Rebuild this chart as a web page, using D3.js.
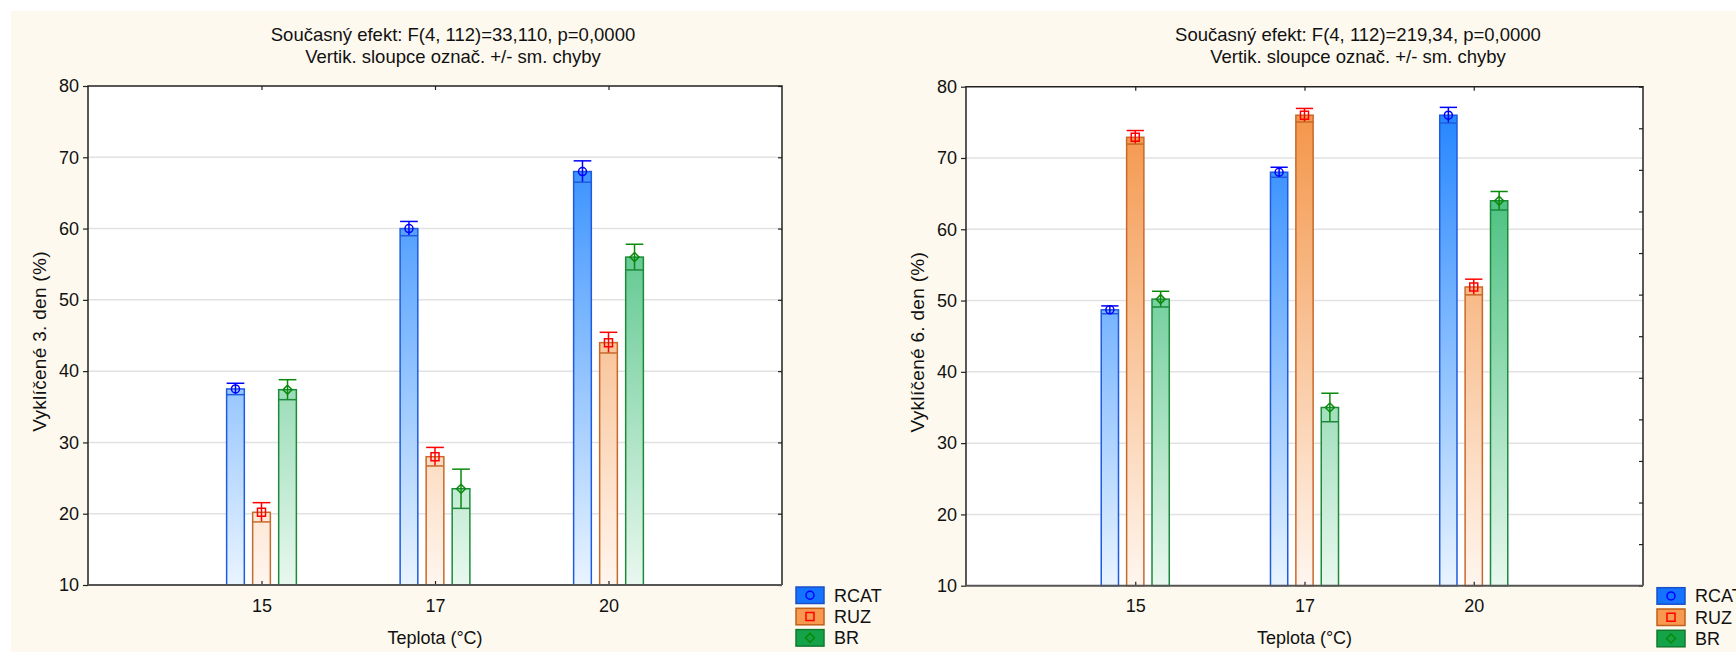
<!DOCTYPE html>
<html>
<head>
<meta charset="utf-8">
<script src="https://cdn.jsdelivr.net/npm/d3@7"></script>
<style>
  body { margin: 0; background: #fff; }
  svg { display: block; font-family: "Liberation Sans", Arial, sans-serif; }
  .tick text { font-size: 18px; fill: #111; }
  .lab { font-size: 18px; fill: #111; }
  .ttl { font-size: 18.5px; fill: #111; }
  .grid line { stroke: #e2e2e2; stroke-width: 1.5; }
</style>
</head>
<body>
<div id="chart"></div>
<script>
// categories and series
const temps = ["15", "17", "20"]
const series = ["RCAT", "RUZ", "BR"]
const yTicks = [10, 20, 30, 40, 50, 60, 70, 80]
const rightTicks6 = [0, 1, 2, 3, 4, 5, 6, 7, 8, 9, 10, 11, 12]

// day 3 means and standard errors
const rcat3 = [37.5, 60.0, 68.0], rcat3Se = [0.8, 1.0, 1.5]
const ruz3 = [20.2, 28.0, 44.0], ruz3Se = [1.35, 1.3, 1.45]
const br3 = [37.4, 23.5, 56.0], br3Se = [1.4, 2.75, 1.8]

// day 6 means and standard errors
const rcat6 = [48.7, 68.0, 76.0], rcat6Se = [0.55, 0.7, 1.1]
const ruz6 = [72.9, 76.0, 51.9], ruz6Se = [0.95, 0.95, 1.1]
const br6 = [50.2, 35.0, 64.0], br6Se = [1.1, 2.0, 1.3]

const W = 1736, H = 652

const sty = {
  RCAT: {top: "#1a80ff", bot: "#e9f4ff", stroke: "#1f5be0", mark: "#0000ff", box: "#1473ff", boxStroke: "#1a4fc8", shape: "circle"},
  RUZ:  {top: "#f39040", bot: "#fff6ef", stroke: "#c8692a", mark: "#ff0000", box: "#f7994f", boxStroke: "#c0601a", shape: "square"},
  BR:   {top: "#20b263", bot: "#e9f8ef", stroke: "#1d8a3a", mark: "#0a8a0a", box: "#15a34a", boxStroke: "#127a30", shape: "diamond"}
}

const svg = d3.select("#chart").append("svg")
  .attr("width", W)
  .attr("height", H)

svg.append("rect")
  .attr("x", 11).attr("y", 11)
  .attr("width", W - 11).attr("height", H - 11)
  .attr("fill", "#fef9ee")

const defs = svg.append("defs")

const drawPanel = (p) => {
  const x = d3.scalePoint()
    .domain(temps)
    .range([p.left, p.right])
    .padding(1)
  const y = d3.scaleLinear()
    .domain([10, 80])
    .range([p.bottom, p.top])
  const step = x.step(),
        bw = step * 0.102,
        off = step * 0.15
  const xs = d3.scaleBand()
    .domain(series)
    .range([-(off + bw / 2), off + bw / 2])
    .paddingInner(1 - bw / off)

  const g = svg.append("g")

  g.append("rect")
    .attr("x", p.left).attr("y", p.top)
    .attr("width", p.right - p.left).attr("height", p.bottom - p.top)
    .attr("fill", "#fff")

  // gridlines
  g.append("g")
    .attr("class", "grid")
    .selectAll("line")
    .data(yTicks.filter(d => d > 10 && d < 80))
    .join("line")
    .attr("x1", p.left).attr("x2", p.right)
    .attr("y1", d => y(d)).attr("y2", d => y(d))

  // gradients in plot space
  series.forEach(s => {
    const gr = defs.append("linearGradient")
      .attr("id", `gr-${p.id}-${s}`)
      .attr("gradientUnits", "userSpaceOnUse")
      .attr("x1", 0).attr("x2", 0)
      .attr("y1", y(80)).attr("y2", y(10))
    gr.append("stop").attr("offset", 0).attr("stop-color", sty[s].top)
    gr.append("stop").attr("offset", 1).attr("stop-color", sty[s].bot)
  })

  const rows = []
  series.forEach((s, i) => {
    temps.forEach((t, j) => {
      rows.push({s: s, t: t, m: p.means[i][j], se: p.ses[i][j]})
    })
  })

  const bars = g.append("g").selectAll("g")
    .data(rows)
    .join("g")
    .attr("transform", d => `translate(${x(d.t) + xs(d.s)},0)`)

  bars.append("rect")
    .attr("x", 0)
    .attr("width", bw)
    .attr("y", d => y(d.m))
    .attr("height", d => y(10) - y(d.m))
    .attr("fill", d => `url(#gr-${p.id}-${d.s})`)
    .attr("stroke", d => sty[d.s].stroke)
    .attr("stroke-width", 1.5)

  // error bars
  bars.append("line")
    .attr("x1", bw / 2).attr("x2", bw / 2)
    .attr("y1", d => y(d.m - d.se)).attr("y2", d => y(d.m + d.se))
    .attr("stroke", d => sty[d.s].mark)
    .attr("stroke-width", 1.5)
  bars.append("line")
    .attr("x1", 0).attr("x2", bw)
    .attr("y1", d => y(d.m + d.se)).attr("y2", d => y(d.m + d.se))
    .attr("stroke", d => sty[d.s].mark)
    .attr("stroke-width", 1.5)
  bars.append("line")
    .attr("x1", 0).attr("x2", bw)
    .attr("y1", d => y(d.m - d.se)).attr("y2", d => y(d.m - d.se))
    .attr("stroke", d => sty[d.s].stroke)
    .attr("stroke-width", 1.5)

  bars.append("path")
    .attr("transform", d => `translate(${bw / 2},${y(d.m)})`)
    .attr("d", d => marker(sty[d.s].shape))
    .attr("fill", "none")
    .attr("stroke", d => sty[d.s].mark)
    .attr("stroke-width", 1.5)

  // axes
  g.append("g")
    .attr("transform", `translate(${p.left},0)`)
    .call(d3.axisLeft(y).tickValues(yTicks).tickSizeOuter(0).tickSize(5).tickPadding(4))
    .call(a => a.select(".domain").remove())

  g.append("g")
    .attr("transform", `translate(0,${p.bottom})`)
    .call(d3.axisBottom(x).tickSizeInner(-4).tickSizeOuter(0).tickPadding(14))
    .call(a => a.select(".domain").remove())

  g.append("g")
    .attr("transform", `translate(0,${p.top})`)
    .call(d3.axisTop(x).tickSizeInner(-4).tickSizeOuter(0).tickFormat(""))
    .call(a => a.select(".domain").remove())

  const yr = d3.scaleLinear().domain(d3.extent(p.rightTicks)).range([p.bottom, p.top])
  g.append("g")
    .attr("transform", `translate(${p.right},0)`)
    .call(d3.axisRight(yr).tickValues(p.rightTicks).tickSizeInner(-4).tickSizeOuter(0).tickFormat(""))
    .call(a => a.select(".domain").remove())

  g.selectAll(".tick line").attr("stroke", "#222").attr("stroke-width", 1.2)

  // frame
  g.append("path")
    .attr("d", `M${p.left},${p.bottom}V${p.top}H${p.right}V${p.bottom}`)
    .attr("fill", "none")
    .attr("stroke", "#222")
    .attr("stroke-width", 1.5)
  g.append("line")
    .attr("x1", p.left).attr("x2", p.right)
    .attr("y1", p.bottom).attr("y2", p.bottom)
    .attr("stroke", "#555")
    .attr("stroke-width", 2)

  // titles
  g.append("text")
    .attr("class", "ttl")
    .attr("x", p.titleX).attr("y", 41)
    .style("text-anchor", "middle")
    .text(p.title1)
  g.append("text")
    .attr("class", "ttl")
    .attr("x", p.titleX).attr("y", 63)
    .style("text-anchor", "middle")
    .text("Vertik. sloupce označ. +/- sm. chyby")

  g.append("text")
    .attr("class", "lab")
    .attr("x", (p.left + p.right) / 2).attr("y", 644)
    .style("text-anchor", "middle")
    .text("Teplota (°C)")

  g.append("text")
    .attr("class", "lab")
    .style("font-size", "19px")
    .style("letter-spacing", "0.3px")
    .attr("transform", `translate(${p.left - 42},${(p.top + p.bottom) / 2 + 6}) rotate(-90)`)
    .style("text-anchor", "middle")
    .text(p.yTitle)

  // legend
  const lg = g.append("g")
    .selectAll("g")
    .data(series)
    .join("g")
    .attr("transform", (d, i) => `translate(${p.right + 14},${p.bottom + 2 + i * 21.3})`)
  lg.append("rect")
    .attr("width", 28).attr("height", 16.5)
    .attr("fill", d => sty[d].box)
    .attr("stroke", d => sty[d].boxStroke)
    .attr("stroke-width", 1.5)
  lg.append("path")
    .attr("transform", "translate(14,8.25)")
    .attr("d", d => marker(sty[d].shape))
    .attr("fill", "none")
    .attr("stroke", d => sty[d].mark)
    .attr("stroke-width", 1.5)
  lg.append("text")
    .attr("x", 38).attr("y", 14.5)
    .style("font-size", "18px")
    .attr("fill", "#111")
    .text(d => d)
}

function marker(shape) {
  if (shape == "circle") return "M4,0A4,4 0 1,1 -4,0A4,4 0 1,1 4,0Z"
  if (shape == "square") return "M-4,-4H4V4H-4Z"
  return "M0,-4.5L4.5,0L0,4.5L-4.5,0Z"
}

drawPanel({
  id: "d3", left: 88, right: 782, top: 86, bottom: 585, titleX: 453,
  title1: "Současný efekt: F(4, 112)=33,110, p=0,0000",
  yTitle: "Vyklíčené 3. den (%)",
  means: [rcat3, ruz3, br3], ses: [rcat3Se, ruz3Se, br3Se],
  rightTicks: yTicks
})

drawPanel({
  id: "d6", left: 966, right: 1643, top: 86.7, bottom: 585.7, titleX: 1358,
  title1: "Současný efekt: F(4, 112)=219,34, p=0,0000",
  yTitle: "Vyklíčené 6. den (%)",
  means: [rcat6, ruz6, br6], ses: [rcat6Se, ruz6Se, br6Se],
  rightTicks: rightTicks6
})
</script>
</body>
</html>
